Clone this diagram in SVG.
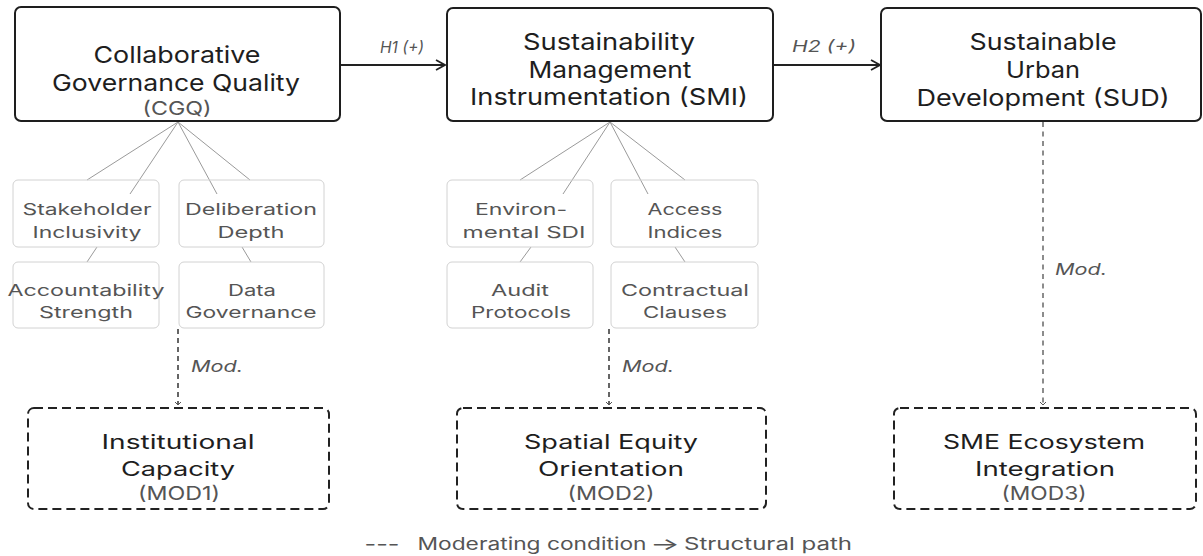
<svg xmlns="http://www.w3.org/2000/svg" width="1203" height="556" viewBox="0 0 1203 556">
  <style>
    text { font-family: Inter, "Liberation Sans", sans-serif; text-anchor: middle; }
    .main { fill: none; stroke: #1e1e1e; stroke-width: 2; }
    .sub { fill: none; stroke: #d2d2d2; stroke-width: 1; }
    .mod { fill: none; stroke: #222; stroke-width: 2; stroke-dasharray: 9 5; }
    .t-main { font-size: 23px; fill: #1e1e1e; }
    .t-abbr { font-size: 19px; fill: #555; }
    .t-sub { font-size: 16px; fill: #555; }
    .t-mod { font-size: 20px; fill: #1e1e1e; }
    .t-lab { font-size: 16px; fill: #555; font-style: italic; }
    .fan { stroke: #9a9a9a; stroke-width: 1; fill: none; }
    .path { stroke: #222; stroke-width: 2; fill: none; marker-end: url(#chev); }
    .modline { stroke: #333; stroke-width: 1.5; stroke-dasharray: 5 4; fill: none; marker-end: url(#tiny); }
    .modline-g { stroke: #8c8c8c; stroke-width: 2; stroke-dasharray: 5 4.5; fill: none; marker-end: url(#tiny); }
    .legend { font-size: 17px; fill: #555; }
  </style>
  <defs>
    <marker id="chev" viewBox="0 0 12 12" refX="11" refY="6" markerWidth="12" markerHeight="12" markerUnits="userSpaceOnUse" orient="auto">
      <path d="M2,1 L11,6 L2,11" fill="none" stroke="#222" stroke-width="1.8"/>
    </marker>
    <marker id="tiny" viewBox="0 0 8 8" refX="4" refY="7" markerWidth="8" markerHeight="8" markerUnits="userSpaceOnUse" orient="0">
      <path d="M1,4 L4,7 L7,4" fill="none" stroke="#555" stroke-width="1"/>
    </marker>
  </defs>

  <rect width="1203" height="556" fill="#fff"/>

  <!-- connectors -->
  <g id="connectors">
    <!-- structural paths -->
    <line class="path" x1="341" y1="65" x2="445" y2="65"/>
    <line class="path" x1="774" y1="65" x2="880" y2="65"/>
    <text class="t-lab" x="402" y="53" textLength="44" lengthAdjust="spacingAndGlyphs">H1 (+)</text>
    <text class="t-lab" x="824" y="52" textLength="64" lengthAdjust="spacingAndGlyphs">H2 (+)</text>

    <!-- indicator fans -->
    <path class="fan" d="M178,122 L87,180 M178,122 L130,194 M178,122 L217,194 M178,122 L250,180"/>
    <path class="fan" d="M97,247 L87,262 M242,247 L251,262"/>
    <path class="fan" d="M610,122 L520,180 M610,122 L563,194 M610,122 L648,194 M610,122 L685,180"/>
    <path class="fan" d="M531,247 L520,262 M675,247 L685,262"/>

    <!-- moderating links -->
    <line class="modline" x1="178" y1="329" x2="178" y2="405"/>
    <line class="modline" x1="609" y1="329" x2="609" y2="405"/>
    <line class="modline-g" x1="1043" y1="122" x2="1043" y2="405"/>
    <text class="t-lab" x="217" y="372" textLength="52" lengthAdjust="spacingAndGlyphs">Mod.</text>
    <text class="t-lab" x="648" y="372" textLength="52" lengthAdjust="spacingAndGlyphs">Mod.</text>
    <text class="t-lab" x="1081" y="275" textLength="52" lengthAdjust="spacingAndGlyphs">Mod.</text>
  </g>

  <!-- core constructs -->
  <g id="cgq">
    <rect class="main" x="15" y="7" width="325" height="114" rx="6"/>
    <text class="t-main" x="177" y="63" textLength="167" lengthAdjust="spacingAndGlyphs">Collaborative</text>
    <text class="t-main" x="176" y="91" textLength="248" lengthAdjust="spacingAndGlyphs">Governance Quality</text>
    <text class="t-abbr" x="177" y="115" textLength="69" lengthAdjust="spacingAndGlyphs">(CGQ)</text>
  </g>
  <g id="smi">
    <rect class="main" x="447" y="8" width="326" height="113" rx="6"/>
    <text class="t-main" x="609" y="50" textLength="172" lengthAdjust="spacingAndGlyphs">Sustainability</text>
    <text class="t-main" x="610" y="78" textLength="163" lengthAdjust="spacingAndGlyphs">Management</text>
    <text class="t-main" x="609" y="105" textLength="278" lengthAdjust="spacingAndGlyphs">Instrumentation (SMI)</text>
  </g>
  <g id="sud">
    <rect class="main" x="881" y="8" width="320" height="113" rx="6"/>
    <text class="t-main" x="1043" y="50" textLength="147" lengthAdjust="spacingAndGlyphs">Sustainable</text>
    <text class="t-main" x="1043" y="78" textLength="74" lengthAdjust="spacingAndGlyphs">Urban</text>
    <text class="t-main" x="1043" y="106" textLength="253" lengthAdjust="spacingAndGlyphs">Development (SUD)</text>
  </g>

  <!-- CGQ indicators -->
  <g id="stakeholder-inclusivity">
    <rect class="sub" x="13" y="180" width="146" height="67" rx="5"/>
    <text class="t-sub" x="87" y="215" textLength="129" lengthAdjust="spacingAndGlyphs">Stakeholder</text>
    <text class="t-sub" x="87" y="238" textLength="109" lengthAdjust="spacingAndGlyphs">Inclusivity</text>
  </g>
  <g id="deliberation-depth">
    <rect class="sub" x="179" y="180" width="145" height="67" rx="5"/>
    <text class="t-sub" x="251" y="215" textLength="132" lengthAdjust="spacingAndGlyphs">Deliberation</text>
    <text class="t-sub" x="251" y="238" textLength="67" lengthAdjust="spacingAndGlyphs">Depth</text>
  </g>
  <g id="accountability-strength">
    <rect class="sub" x="13" y="262" width="146" height="66" rx="5"/>
    <text class="t-sub" x="86" y="296" textLength="157" lengthAdjust="spacingAndGlyphs">Accountability</text>
    <text class="t-sub" x="86" y="318" textLength="94" lengthAdjust="spacingAndGlyphs">Strength</text>
  </g>
  <g id="data-governance">
    <rect class="sub" x="179" y="262" width="145" height="66" rx="5"/>
    <text class="t-sub" x="252" y="296" textLength="48" lengthAdjust="spacingAndGlyphs">Data</text>
    <text class="t-sub" x="251" y="318" textLength="131" lengthAdjust="spacingAndGlyphs">Governance</text>
  </g>

  <!-- SMI indicators -->
  <g id="environmental-sdi">
    <rect class="sub" x="447" y="180" width="146" height="67" rx="5"/>
    <text class="t-sub" x="521" y="215" textLength="92" lengthAdjust="spacingAndGlyphs">Environ-</text>
    <text class="t-sub" x="524" y="238" textLength="123" lengthAdjust="spacingAndGlyphs">mental SDI</text>
  </g>
  <g id="access-indices">
    <rect class="sub" x="611" y="180" width="147" height="67" rx="5"/>
    <text class="t-sub" x="685" y="215" textLength="75" lengthAdjust="spacingAndGlyphs">Access</text>
    <text class="t-sub" x="685" y="238" textLength="75" lengthAdjust="spacingAndGlyphs">Indices</text>
  </g>
  <g id="audit-protocols">
    <rect class="sub" x="447" y="262" width="146" height="66" rx="5"/>
    <text class="t-sub" x="520" y="296" textLength="58" lengthAdjust="spacingAndGlyphs">Audit</text>
    <text class="t-sub" x="521" y="318" textLength="100" lengthAdjust="spacingAndGlyphs">Protocols</text>
  </g>
  <g id="contractual-clauses">
    <rect class="sub" x="611" y="262" width="147" height="66" rx="5"/>
    <text class="t-sub" x="685" y="296" textLength="128" lengthAdjust="spacingAndGlyphs">Contractual</text>
    <text class="t-sub" x="685" y="318" textLength="84" lengthAdjust="spacingAndGlyphs">Clauses</text>
  </g>

  <!-- moderators -->
  <g id="mod1">
    <rect class="mod" x="28" y="408" width="301" height="101" rx="6"/>
    <text class="t-mod" x="178" y="449" textLength="153" lengthAdjust="spacingAndGlyphs">Institutional</text>
    <text class="t-mod" x="178" y="476" textLength="114" lengthAdjust="spacingAndGlyphs">Capacity</text>
    <text class="t-abbr" x="179" y="500" textLength="82" lengthAdjust="spacingAndGlyphs">(MOD1)</text>
  </g>
  <g id="mod2">
    <rect class="mod" x="457" y="408" width="309" height="101" rx="6"/>
    <text class="t-mod" x="611" y="449" textLength="174" lengthAdjust="spacingAndGlyphs">Spatial Equity</text>
    <text class="t-mod" x="611" y="476" textLength="146" lengthAdjust="spacingAndGlyphs">Orientation</text>
    <text class="t-abbr" x="611" y="500" textLength="87" lengthAdjust="spacingAndGlyphs">(MOD2)</text>
  </g>
  <g id="mod3">
    <rect class="mod" x="894" y="408" width="302" height="101" rx="6"/>
    <text class="t-mod" x="1044" y="449" textLength="202" lengthAdjust="spacingAndGlyphs">SME Ecosystem</text>
    <text class="t-mod" x="1045" y="476" textLength="140" lengthAdjust="spacingAndGlyphs">Integration</text>
    <text class="t-abbr" x="1044" y="500" textLength="85" lengthAdjust="spacingAndGlyphs">(MOD3)</text>
  </g>

  <!-- legend -->
  <g id="legend">
    <text class="legend" x="382" y="550" textLength="35" lengthAdjust="spacingAndGlyphs">---</text>
    <text class="legend" x="532" y="550" textLength="229" lengthAdjust="spacingAndGlyphs">Moderating condition</text>
    <text class="legend" x="665" y="550" textLength="30" lengthAdjust="spacingAndGlyphs">→</text>
    <text class="legend" x="768" y="550" textLength="168" lengthAdjust="spacingAndGlyphs">Structural path</text>
  </g>
</svg>
